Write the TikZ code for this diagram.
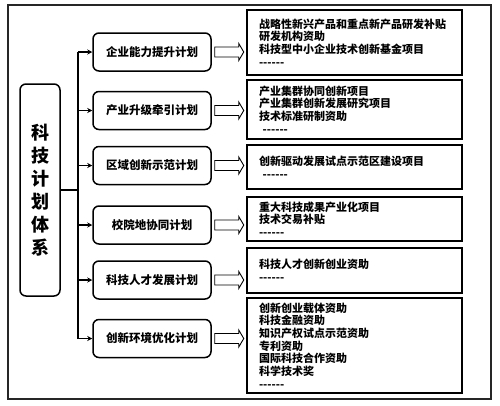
\documentclass[tikz,border=0pt]{standalone}
\usepackage{fontspec}
\newfontfamily\cjk{Noto Sans CJK SC}
\usetikzlibrary{arrows.meta, calc}

\tikzset{
  sysbox/.style={draw, line width=1.5pt, rounded corners=6pt, minimum width=40pt,
    minimum height=212pt, align=center, font=\cjk\bfseries\fontsize{18}{23}\selectfont},
  plan/.style={draw, line width=1.5pt, rounded corners=6pt, minimum width=118pt,
    minimum height=38pt, font=\cjk\bfseries\fontsize{11.5}{13}\selectfont},
  item/.style={draw, line width=1.5pt, text width=191pt, inner xsep=12pt, inner ysep=0pt,
    align=left, font=\cjk\bfseries\fontsize{11}{12.7}\selectfont},
  hollow/.style={draw, line width=0.9pt, fill=white},
  branch/.style={line width=1.2pt, -{Stealth[length=5pt,width=5pt]}}
}

\begin{document}
\begin{tikzpicture}[x=1pt, y=-1pt]
    \useasboundingbox (0,0) rectangle (500,405);
    % Moldura
    \draw[line width=1.5pt, black!85] (8,5) rectangle (491,399);
    % Sistema
    \node[sysbox] (sys) at (40,190) {科\\技\\计\\划\\体\\系};
    \coordinate (trunk) at (78,0);
    % Planos
    \foreach \i/\y/\txt in {1/52/企业能力提升计划, 2/110.5/产业升级牵引计划,
        3/165.5/区域创新示范计划, 4/225/校院地协同计划,
        5/280/科技人才发展计划, 6/338.5/创新环境优化计划} {
        \node[plan] (p\i) at (152,\y) {\txt};
    }
    % Projetos
    \node[item, minimum height=65pt] (d1) at (354.5,42.5)
        {战略性新兴产品和重点新产品研发补贴\\研发机构资助\\科技型中小企业技术创新基金项目\\------};
    \node[item, minimum height=59pt] (d2) at (354.5,109.5)
        {产业集群协同创新项目\\产业集群创新发展研究项目\\技术标准研制资助\\\ ------};
    \node[item, minimum height=44pt] (d3) at (354.5,167)
        {创新驱动发展试点示范区建设项目\\\ ------};
    \node[item, minimum height=44pt] (d4) at (354.5,219)
        {重大科技成果产业化项目\\技术交易补贴\\------};
    \node[item, minimum height=45pt] (d5) at (354.5,270.5)
        {科技人才创新创业资助\\------};
    \node[item, minimum height=95pt] (d6) at (354.5,345.5)
        {创新创业载体资助\\科技金融资助\\知识产权试点示范资助\\专利资助\\国际科技合作资助\\科学技术奖\\------};
    % Ligações
    \draw[line width=1.2pt] (sys.east) -- (trunk |- sys.east);
    \draw[line width=1.2pt] (trunk |- p1.west) -- (trunk |- p6.west);
    \foreach \i in {1,...,6} {
        \draw[branch] (trunk |- p\i.west) -- (p\i.west);
        \draw[hollow] ($(p\i.east)+(3,-5)$) -- ++(24,0) -- ++(0,-3.5) -- ++(5,8.5)
            -- ++(-5,8.5) -- ++(0,-3.5) -- ++(-24,0) -- cycle;
    }
\end{tikzpicture}
\end{document}
